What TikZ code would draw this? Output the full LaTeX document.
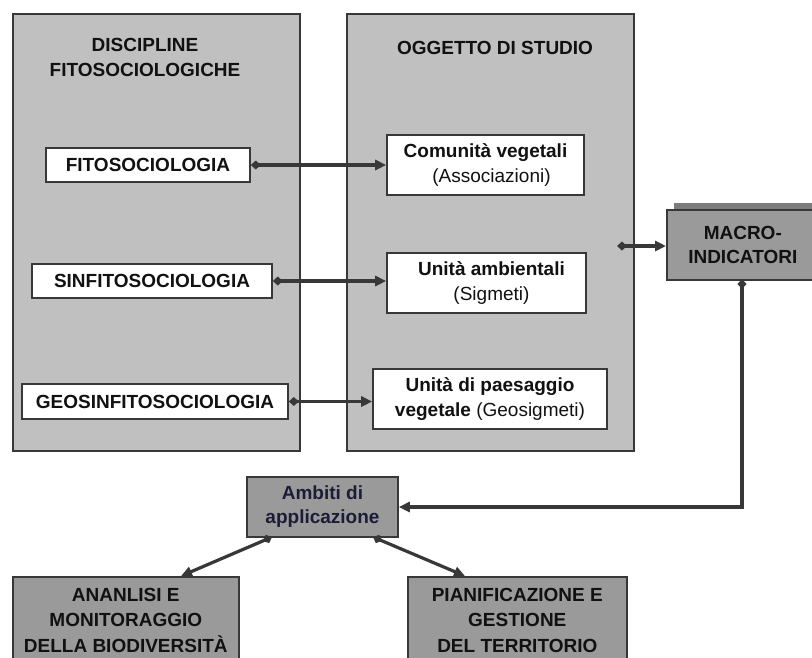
\documentclass[tikz,border=0pt]{standalone}
\usepackage{fontspec}
\setmainfont{Liberation Sans}
\usetikzlibrary{arrows.meta}
\definecolor{panel}{HTML}{C0C0C0}
\definecolor{darkbox}{HTML}{9A9A9A}
\definecolor{edge}{HTML}{383838}
\definecolor{shadowc}{HTML}{7C7C7C}
\definecolor{navy}{HTML}{1C1C36}
\definecolor{txt}{HTML}{111111}
\tikzset{
  panelbox/.style={draw=edge, line width=1.6pt, fill=panel},
  whitebox/.style={draw=edge, line width=1.6pt, fill=white, inner sep=0pt, align=center, text=txt,
    font=\bfseries\fontsize{19}{25}\selectfont},
  graybox/.style={draw=edge, line width=1.6pt, fill=darkbox, inner sep=0pt, align=center, text=txt,
    font=\bfseries\fontsize{19}{25.5}\selectfont},
  titletext/.style={align=center, text=txt, font=\bfseries\fontsize{19}{25}\selectfont},
  conn/.style={draw=edge, line width=3.2pt,
    {Diamond[length=10pt,width=9pt]}-{Triangle[length=11pt,width=10pt]}}
}
\begin{document}
\begin{tikzpicture}[x=1pt,y=-1pt]
\useasboundingbox (0,0) rectangle (812,657);
\fill[white] (0,0) rectangle (812,657);
% panels
\node[panelbox, anchor=north west, minimum width=287pt, minimum height=437pt] (panelL) at (12,13) {};
\node[panelbox, anchor=north west, minimum width=287pt, minimum height=437pt] (panelR) at (346,13) {};
\node[titletext] (titleL) at (145,57.5) {DISCIPLINE\\FITOSOCIOLOGICHE};
\node[titletext] (titleR) at (495,48) {OGGETTO DI STUDIO};
% left boxes
\node[whitebox, minimum width=204pt, minimum height=34pt] (fito) at (148,165) {FITOSOCIOLOGIA};
\node[whitebox, minimum width=240pt, minimum height=34pt] (sinfito) at (152,281) {SINFITOSOCIOLOGIA};
\node[whitebox, minimum width=266pt, minimum height=35pt] (geo) at (155,401.5) {GEOSINFITOSOCIOLOGIA};
% right boxes
\node[whitebox, minimum width=197pt, minimum height=60pt] (comu) at (485.5,165) {Comunità vegetali\\{\mdseries\hspace*{12pt}(Associazioni)}};
\node[whitebox, minimum width=199pt, minimum height=60pt] (unamb) at (486.5,283) {\hspace*{10pt}Unità ambientali\\{\mdseries\hspace*{10pt}(Sigmeti)}};
\node[whitebox, minimum width=234pt, minimum height=60pt] (unpae) at (490,399) {Unità di paesaggio\\vegetale {\mdseries (Geosigmeti)}};
% macro indicatori
\fill[shadowc] (674,202.5) rectangle (830,209);
\node[graybox, anchor=north west, minimum width=152pt, minimum height=70pt, font=\bfseries\fontsize{19}{24}\selectfont] (macro) at (666,209) {MACRO-\\INDICATORI};
% ambiti
\node[graybox, text=navy, minimum width=151pt, minimum height=60pt, font=\bfseries\fontsize{19}{24}\selectfont] (ambiti) at (322.5,507) {Ambiti di\\applicazione};
% bottom boxes
\node[graybox, anchor=north west, minimum width=226pt, minimum height=87pt] (analisi) at (12,576) {ANANLISI E\\MONITORAGGIO\\DELLA BIODIVERSITÀ};
\node[graybox, anchor=north west, minimum width=219pt, minimum height=87pt] (plan) at (407,576) {PIANIFICAZIONE E\\GESTIONE\\DEL TERRITORIO};
% connectors
\draw[conn] (fito.east) -- (comu.west);
\draw[conn] (sinfito.east) -- (sinfito.east -| unamb.west);
\draw[conn] (geo.east) -- (geo.east -| unpae.west);
\coordinate (mtail) at (617,246);
\draw[conn] (mtail) -- (mtail -| macro.west);
\coordinate (mbot) at (742,279);
\draw[conn] (mbot) |- (ambiti.east);
\coordinate (aL) at (272,537);
\coordinate (aR) at (373,537);
\coordinate (anTop) at (181,576);
\coordinate (plTop) at (465,576);
\draw[conn] (aL) -- (anTop);
\draw[conn] (aR) -- (plTop);
\end{tikzpicture}
\end{document}
